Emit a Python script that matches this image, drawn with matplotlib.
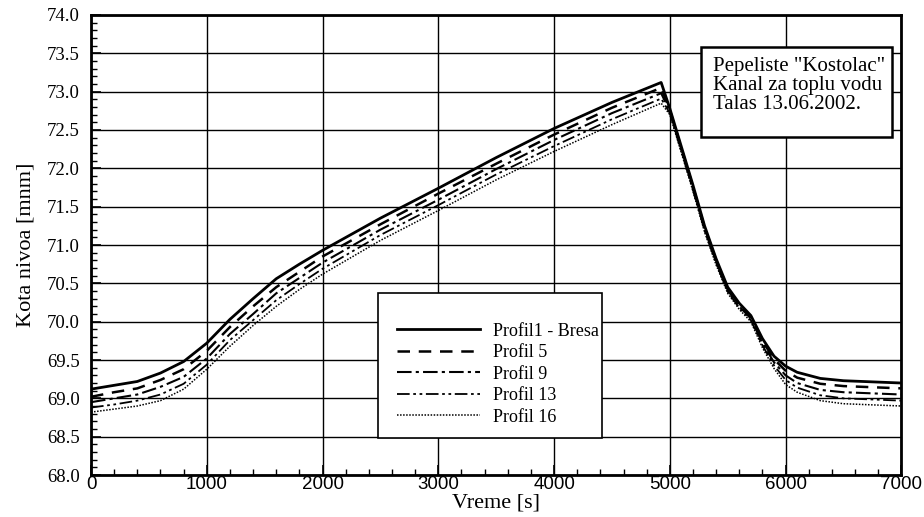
import matplotlib
matplotlib.use('Agg')
import matplotlib.pyplot as plt
from matplotlib.patches import Rectangle
from matplotlib.ticker import MultipleLocator

# time [s] and water levels for each profile
vreme = [0, 200, 400, 600, 800, 1000, 1200, 1400, 1600, 1800, 2000, 2500, 3000, 3500, 4000, 4500,
         4925, 5000, 5100, 5200, 5300, 5400, 5500, 5600, 5700, 5800, 5900, 6000, 6100, 6300, 6500, 7000]

profil1 = [69.12, 69.17, 69.22, 69.33, 69.48, 69.72, 70.03, 70.30, 70.56, 70.75, 70.93, 71.35, 71.74, 72.14,
           72.52, 72.86, 73.12, 72.78, 72.28, 71.78, 71.25, 70.82, 70.45, 70.24, 70.08, 69.78, 69.55, 69.42,
           69.34, 69.26, 69.23, 69.20]
profil5 = [69.02, 69.08, 69.13, 69.24, 69.38, 69.62, 69.93, 70.20, 70.45, 70.65, 70.85, 71.27, 71.67, 72.06,
           72.44, 72.79, 73.05, 72.76, 72.26, 71.76, 71.23, 70.80, 70.43, 70.22, 70.06, 69.75, 69.51, 69.36,
           69.27, 69.19, 69.16, 69.13]
profil9 = [68.95, 69.00, 69.05, 69.15, 69.28, 69.52, 69.84, 70.10, 70.37, 70.57, 70.77, 71.20, 71.59, 71.99,
           72.37, 72.72, 72.98, 72.74, 72.24, 71.74, 71.21, 70.78, 70.41, 70.20, 70.04, 69.72, 69.47, 69.30,
           69.20, 69.11, 69.08, 69.05]
profil13 = [68.88, 68.92, 68.97, 69.05, 69.19, 69.44, 69.76, 70.02, 70.28, 70.49, 70.69, 71.13, 71.52, 71.92,
            72.29, 72.64, 72.91, 72.72, 72.22, 71.72, 71.19, 70.76, 70.39, 70.18, 70.02, 69.69, 69.43, 69.24,
            69.14, 69.04, 69.00, 68.97]
profil16 = [68.82, 68.86, 68.90, 68.97, 69.12, 69.38, 69.68, 69.95, 70.20, 70.42, 70.62, 71.06, 71.45, 71.85,
            72.22, 72.57, 72.85, 72.70, 72.20, 71.70, 71.17, 70.74, 70.37, 70.16, 70.00, 69.66, 69.39, 69.18,
            69.08, 68.97, 68.93, 68.90]

labels = ['Profil1 - Bresa', 'Profil 5', 'Profil 9', 'Profil 13', 'Profil 16']
serif = 'Liberation Serif'
sans = 'Liberation Sans'

fig = plt.figure(figsize=(9.24, 5.17), dpi=100)
ax = fig.add_axes([0.0985, 0.0812, 0.877, 0.8898])

ax.plot(vreme, profil1, color='black', lw=2.0, label=labels[0])
ax.plot(vreme, profil5, color='black', lw=1.8, dashes=(5, 3.5), label=labels[1])
ax.plot(vreme, profil9, color='black', lw=1.5, dashes=(7, 2, 1.5, 2), label=labels[2])
ax.plot(vreme, profil13, color='black', lw=1.3, dashes=(7, 2, 1.5, 2, 1.5, 2), label=labels[3])
ax.plot(vreme, profil16, color='black', lw=1.1, dashes=(1, 1), label=labels[4])

ax.set_xlim(0, 7000)
ax.set_ylim(68, 74)
ax.xaxis.set_major_locator(MultipleLocator(1000))
ax.xaxis.set_minor_locator(MultipleLocator(200))
ax.yaxis.set_major_locator(MultipleLocator(0.5))
ax.yaxis.set_minor_locator(MultipleLocator(0.1))
ax.grid(True, which='major', color='black', lw=1.0)
ax.tick_params(which='both', direction='in', top=False, right=False, colors='black')
ax.tick_params(which='major', length=7, width=1.2)
ax.tick_params(which='minor', length=4, width=1.0)
ax.tick_params(axis='x', pad=1)
ax.tick_params(axis='y', pad=8)
for s in ax.spines.values():
    s.set_linewidth(2)

ax.set_yticklabels(['%.1f' % v for v in ax.get_yticks()], family=serif, fontsize=13.5)
ax.set_xticklabels(['%d' % v for v in ax.get_xticks()], family=sans, fontsize=13.5)
ax.set_xlabel('Vreme [s]', family=serif, fontsize=16, labelpad=0)
ax.set_ylabel('Kota nivoa [mnm]', family=serif, fontsize=16, labelpad=8)

# legend box
ax.add_patch(Rectangle((0.354, 0.08), 0.277, 0.315, transform=ax.transAxes,
                       facecolor='white', edgecolor='black', lw=1.2, zorder=5))
leg = ax.legend(loc='center', bbox_to_anchor=(0.364, 0.062, 0.277, 0.315), frameon=False,
                prop={'family': serif, 'size': 13}, handlelength=4.6, handletextpad=0.7,
                labelspacing=0.25)
leg.set_zorder(6)

# info box
ax.add_patch(Rectangle((0.753, 0.735), 0.236, 0.195, transform=ax.transAxes,
                       facecolor='white', edgecolor='black', lw=1.8, zorder=5))
ax.text(0.767, 0.908, 'Pepeliste "Kostolac"\nKanal za toplu vodu\nTalas 13.06.2002.',
        transform=ax.transAxes, ha='left', va='top', family=serif, fontsize=15,
        linespacing=1.0, zorder=6)

fig.savefig('out.png', dpi=100)
